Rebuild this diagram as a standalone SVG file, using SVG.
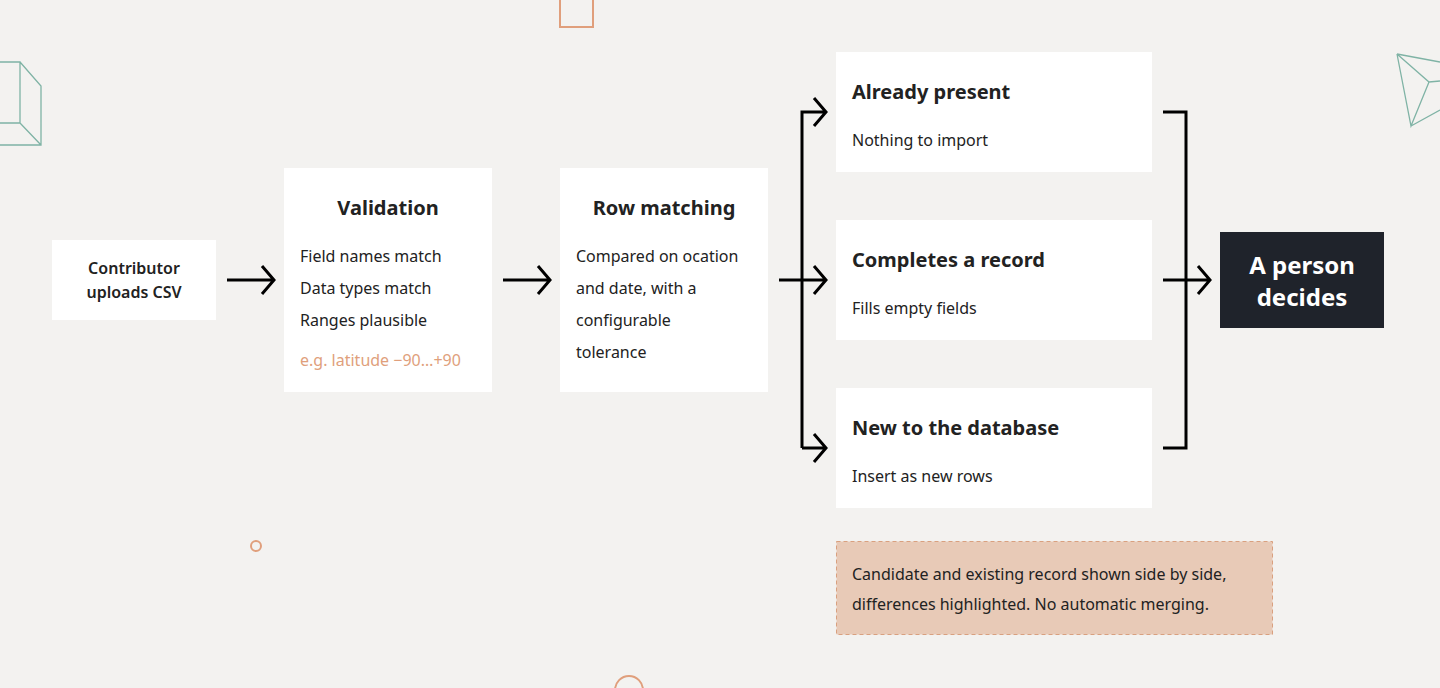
<svg xmlns="http://www.w3.org/2000/svg" width="1440" height="688" viewBox="0 0 1440 688">
<style>
text{font-family:"Noto Sans","Liberation Sans",sans-serif;fill:#222;}
.b{fill:#fff;}
.h{font-size:20px;font-weight:700;}
.t{font-size:16px;}
.c{stroke:#000;stroke-width:3;fill:none;}
.g{stroke:#7fb3a5;stroke-width:1.3;fill:none;}
.o{stroke:#e09f7c;stroke-width:2;fill:none;}
</style>
<rect width="1440" height="688" fill="#f3f2f0"/>
<g id="deco">
<rect class="o" x="560" y="-5" width="33" height="32"/>
<circle class="o" cx="256" cy="546" r="5"/>
<circle class="o" cx="629" cy="690" r="14"/>
<path class="g" d="M0 62H20V123H0M20 62L41 86V145H0M20 123L41 145"/>
<path class="g" d="M1397 54L1440 62M1397 54L1429 82L1440 81M1397 54L1411 126L1429 82M1411 126L1440 110"/>
</g>
<g id="connectors">
<path class="c" d="M227 280H272M262 266L274 280L262 294"/>
<path class="c" d="M503 280H548M538 266L550 280L538 294"/>
<path class="c" d="M779 280H824M814 266L826 280L814 294"/>
<path class="c" d="M802 448V112H824M814 98L826 112L814 126M802 448H824M814 434L826 448L814 462"/>
<path class="c" d="M1163 112H1186V448H1163M1163 280H1208M1198 266L1210 280L1198 294"/>
</g>
<g id="contributor"><rect class="b" x="52" y="240" width="164" height="80"/>
<text class="t" x="134" y="274" text-anchor="middle" font-weight="600">Contributor</text>
<text class="t" x="134" y="298" text-anchor="middle" font-weight="600">uploads CSV</text></g>
<g id="validation"><rect class="b" x="284" y="168" width="208" height="224"/>
<text class="h" x="388" y="215" text-anchor="middle">Validation</text>
<text class="t" x="300" y="262">Field names match</text>
<text class="t" x="300" y="294">Data types match</text>
<text class="t" x="300" y="326">Ranges plausible</text>
<text class="t" x="300" y="366" style="fill:#e09f7c">e.g. latitude −90…+90</text></g>
<g id="matching"><rect class="b" x="560" y="168" width="208" height="224"/>
<text class="h" x="664" y="215" text-anchor="middle">Row matching</text>
<text class="t" x="576" y="262">Compared on ocation</text>
<text class="t" x="576" y="294">and date, with a</text>
<text class="t" x="576" y="326">configurable</text>
<text class="t" x="576" y="358">tolerance</text></g>
<g id="present"><rect class="b" x="836" y="52" width="316" height="120"/>
<text class="h" x="852" y="99">Already present</text>
<text class="t" x="852" y="146">Nothing to import</text></g>
<g id="completes"><rect class="b" x="836" y="220" width="316" height="120"/>
<text class="h" x="852" y="267">Completes a record</text>
<text class="t" x="852" y="314">Fills empty fields</text></g>
<g id="new"><rect class="b" x="836" y="388" width="316" height="120"/>
<text class="h" x="852" y="435">New to the database</text>
<text class="t" x="852" y="482">Insert as new rows</text></g>
<g id="person"><rect x="1220" y="232" width="164" height="96" fill="#1f232b"/>
<text x="1302" y="274" text-anchor="middle" style="fill:#fff;font-size:24px;font-weight:700">A person</text>
<text x="1302" y="306" text-anchor="middle" style="fill:#fff;font-size:24px;font-weight:700">decides</text></g>
<g id="note"><rect x="836.5" y="541.5" width="436" height="93" fill="#e8cab7" stroke="#d9a07f" stroke-dasharray="4 3"/>
<text class="t" x="852" y="580">Candidate and existing record shown side by side,</text>
<text class="t" x="852" y="610">differences highlighted. No automatic merging.</text></g>
</svg>
